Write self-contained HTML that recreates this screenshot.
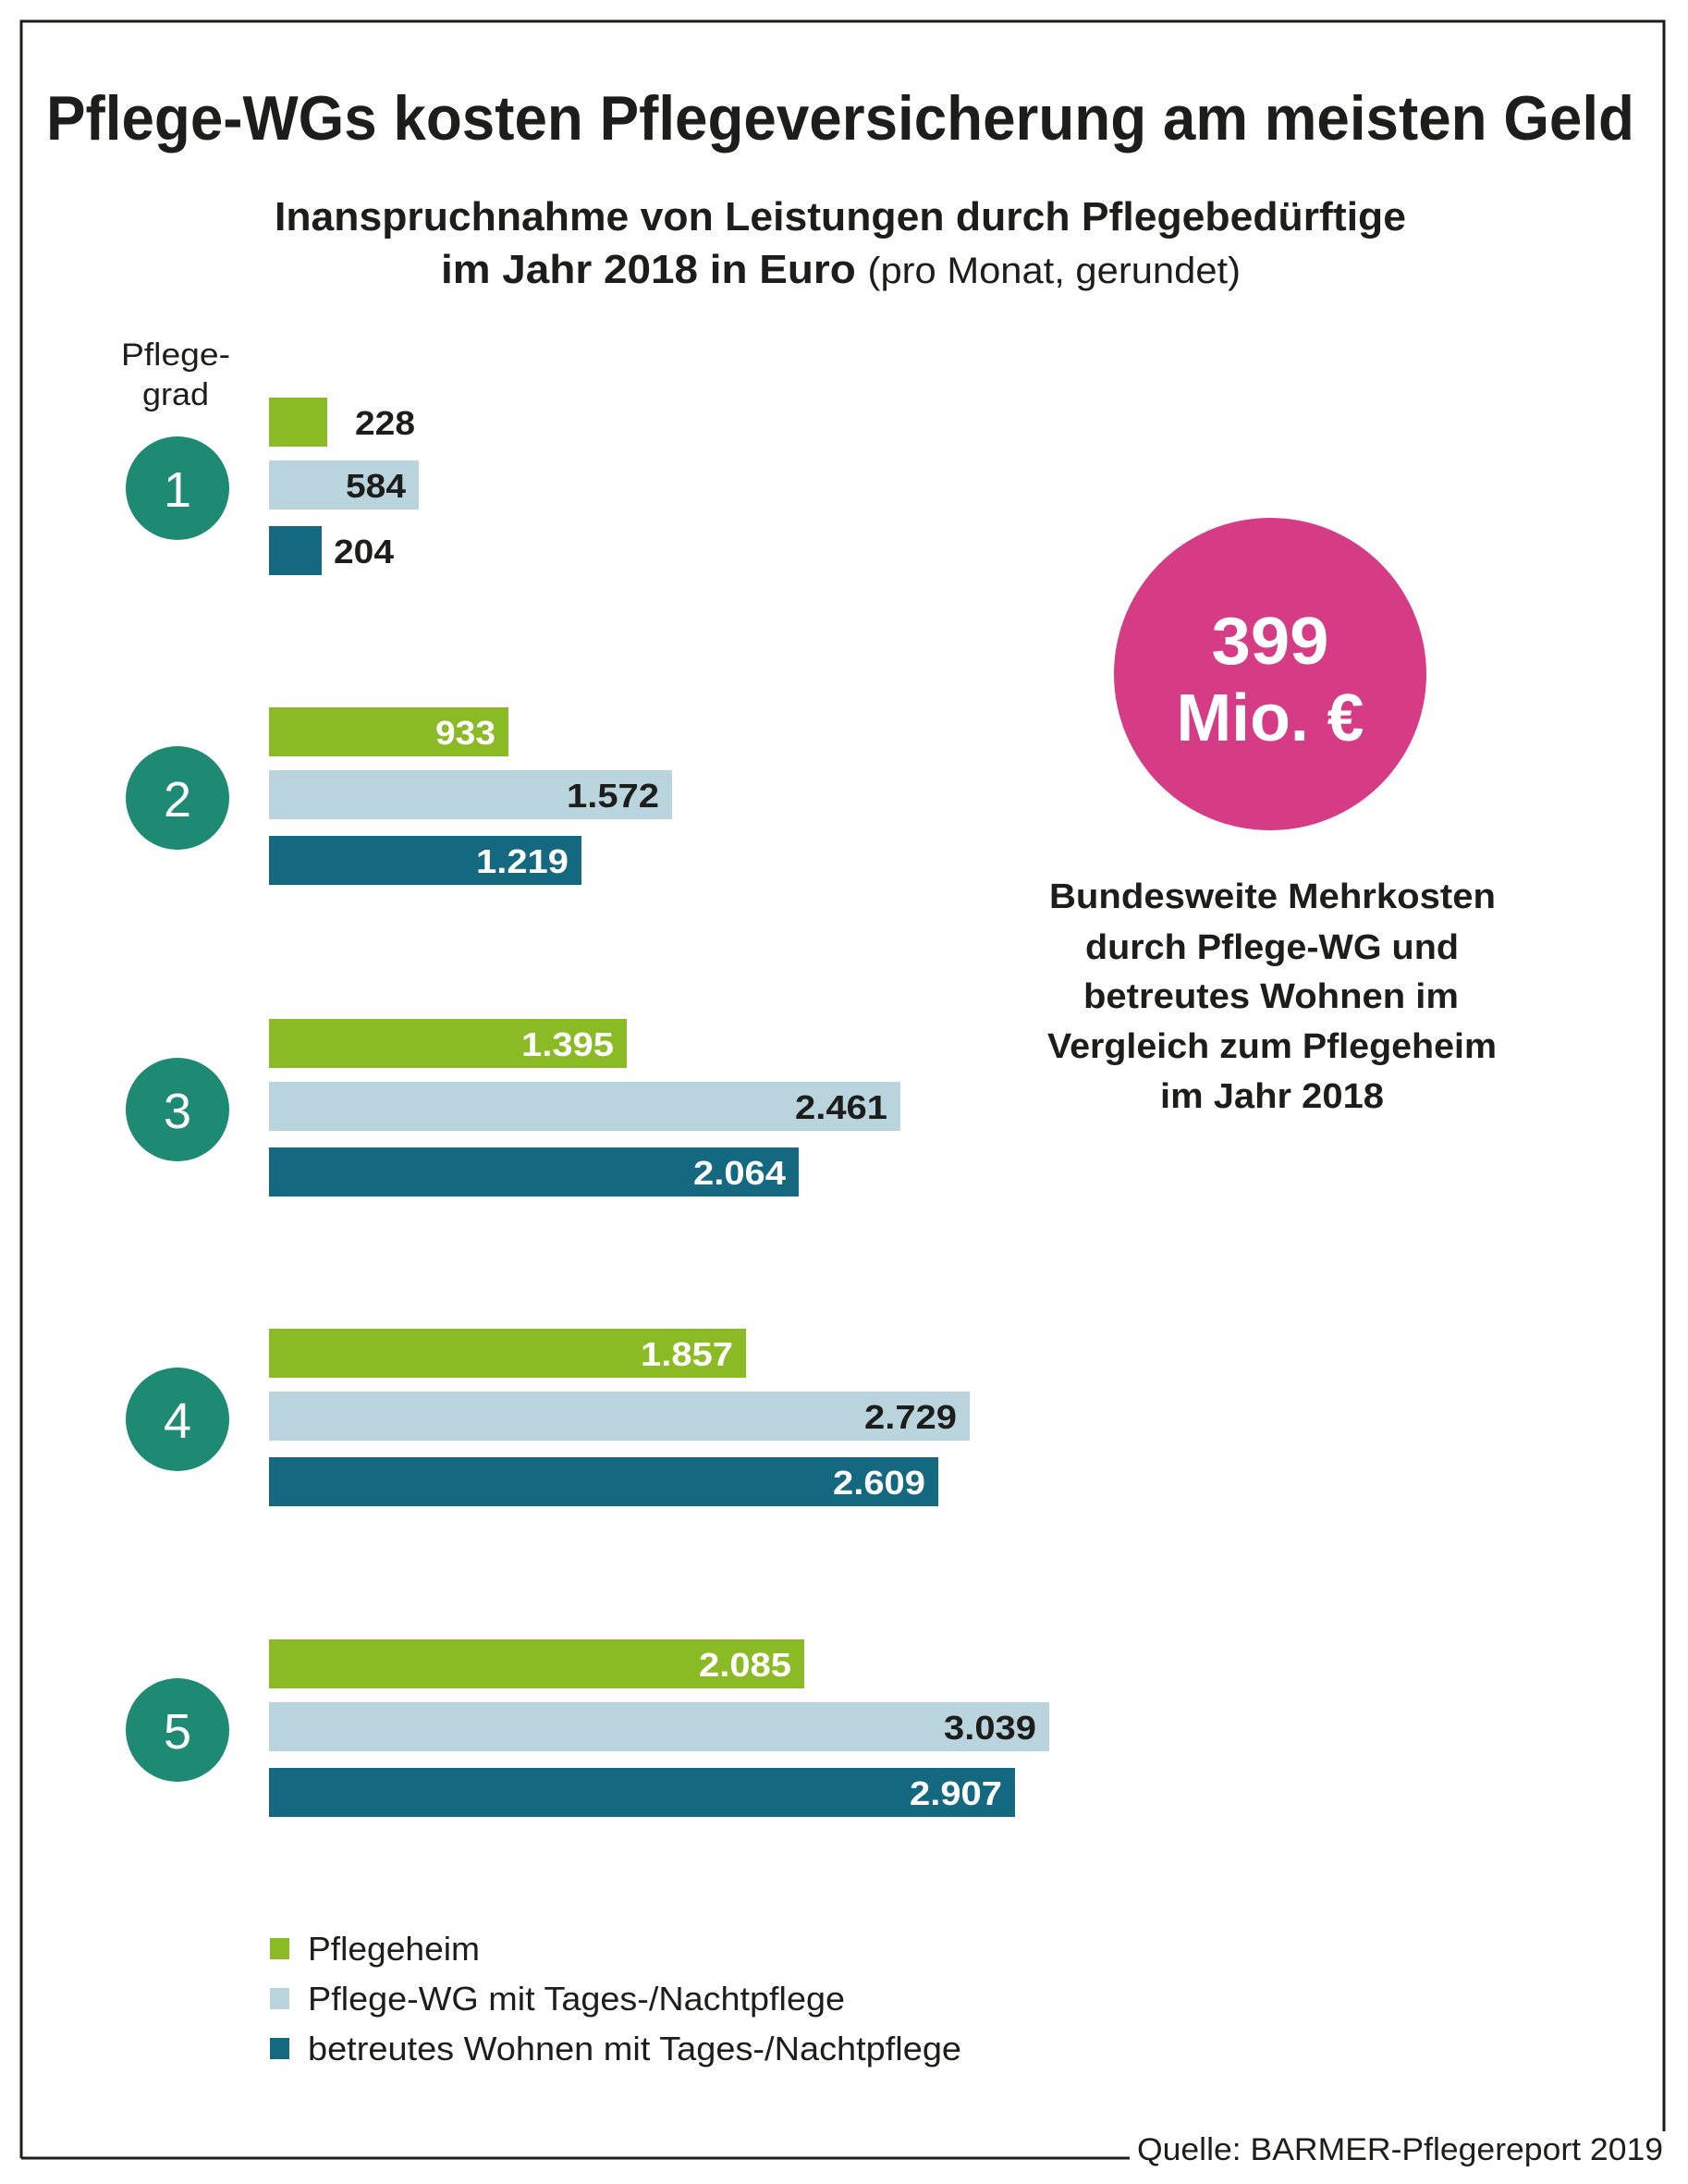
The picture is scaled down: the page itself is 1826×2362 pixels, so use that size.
<!DOCTYPE html>
<html><head><meta charset="utf-8"><style>
html,body{margin:0;padding:0;background:#fff;}
svg{display:block;}
text{font-family:"Liberation Sans",sans-serif;}
</style></head><body>
<svg width="1826" height="2362" viewBox="0 0 1826 2362" xmlns="http://www.w3.org/2000/svg">
<rect width="1826" height="2362" fill="#fff"/>
<g stroke="#1d1d1b" stroke-width="3" fill="none">
<path d="M23 2334 L23 23 L1800 23 L1800 2305"/>
<path d="M23 2334 L1222 2334"/>
</g>
<g fill="#1d1d1b">
<text x="50" y="151" font-size="68" font-weight="bold" textLength="1718" lengthAdjust="spacingAndGlyphs">Pflege-WGs kosten Pflegeversicherung am meisten Geld</text>
<text x="297" y="249" font-size="44" font-weight="bold" textLength="1224" lengthAdjust="spacingAndGlyphs">Inanspruchnahme von Leistungen durch Pflegebedürftige</text>
<text x="477" y="306" font-size="44" font-weight="bold" textLength="865" lengthAdjust="spacingAndGlyphs">im Jahr 2018 in Euro <tspan font-weight="normal" font-size="40">(pro Monat, gerundet)</tspan></text>
<text x="190" y="395" font-size="34" text-anchor="middle" textLength="118" lengthAdjust="spacingAndGlyphs">Pflege-</text>
<text x="190" y="438" font-size="34" text-anchor="middle" textLength="72" lengthAdjust="spacingAndGlyphs">grad</text>
</g>
<g id="bars">
<!-- group 1 cy=528 -->
<circle cx="192" cy="528" r="56" fill="#1e8a74"/>
<text x="192" y="548" font-size="54" fill="#fff" text-anchor="middle">1</text>
<rect x="291" y="430" width="63" height="53" fill="#8bbb24"/>
<rect x="291" y="498" width="162" height="53" fill="#b9d4dc"/>
<rect x="291" y="569" width="57" height="53" fill="#14687f"/>
<text x="384" y="470" font-size="36" font-weight="bold" fill="#1d1d1b" textLength="65" lengthAdjust="spacingAndGlyphs">228</text>
<text x="439" y="538" font-size="36" font-weight="bold" fill="#1d1d1b" text-anchor="end" textLength="65" lengthAdjust="spacingAndGlyphs">584</text>
<text x="361" y="609" font-size="36" font-weight="bold" fill="#1d1d1b" textLength="65" lengthAdjust="spacingAndGlyphs">204</text>

<!-- group 2 cy=863 -->
<circle cx="192" cy="863" r="56" fill="#1e8a74"/>
<text x="192" y="883" font-size="54" fill="#fff" text-anchor="middle">2</text>
<rect x="291" y="765" width="259" height="53" fill="#8bbb24"/>
<rect x="291" y="833" width="436" height="53" fill="#b9d4dc"/>
<rect x="291" y="904" width="338" height="53" fill="#14687f"/>
<text x="536" y="805" font-size="36" font-weight="bold" fill="#fff" text-anchor="end" textLength="65" lengthAdjust="spacingAndGlyphs">933</text>
<text x="713" y="873" font-size="36" font-weight="bold" fill="#1d1d1b" text-anchor="end" textLength="100" lengthAdjust="spacingAndGlyphs">1.572</text>
<text x="615" y="944" font-size="36" font-weight="bold" fill="#fff" text-anchor="end" textLength="100" lengthAdjust="spacingAndGlyphs">1.219</text>

<!-- group 3 cy=1200 -->
<circle cx="192" cy="1200" r="56" fill="#1e8a74"/>
<text x="192" y="1220" font-size="54" fill="#fff" text-anchor="middle">3</text>
<rect x="291" y="1102" width="387" height="53" fill="#8bbb24"/>
<rect x="291" y="1170" width="683" height="53" fill="#b9d4dc"/>
<rect x="291" y="1241" width="573" height="53" fill="#14687f"/>
<text x="664" y="1142" font-size="36" font-weight="bold" fill="#fff" text-anchor="end" textLength="100" lengthAdjust="spacingAndGlyphs">1.395</text>
<text x="960" y="1210" font-size="36" font-weight="bold" fill="#1d1d1b" text-anchor="end" textLength="100" lengthAdjust="spacingAndGlyphs">2.461</text>
<text x="850" y="1281" font-size="36" font-weight="bold" fill="#fff" text-anchor="end" textLength="100" lengthAdjust="spacingAndGlyphs">2.064</text>

<!-- group 4 cy=1535 -->
<circle cx="192" cy="1535" r="56" fill="#1e8a74"/>
<text x="192" y="1555" font-size="54" fill="#fff" text-anchor="middle">4</text>
<rect x="291" y="1437" width="516" height="53" fill="#8bbb24"/>
<rect x="291" y="1505" width="758" height="53" fill="#b9d4dc"/>
<rect x="291" y="1576" width="724" height="53" fill="#14687f"/>
<text x="793" y="1477" font-size="36" font-weight="bold" fill="#fff" text-anchor="end" textLength="100" lengthAdjust="spacingAndGlyphs">1.857</text>
<text x="1035" y="1545" font-size="36" font-weight="bold" fill="#1d1d1b" text-anchor="end" textLength="100" lengthAdjust="spacingAndGlyphs">2.729</text>
<text x="1001" y="1616" font-size="36" font-weight="bold" fill="#fff" text-anchor="end" textLength="100" lengthAdjust="spacingAndGlyphs">2.609</text>

<!-- group 5 cy=1871 -->
<circle cx="192" cy="1871" r="56" fill="#1e8a74"/>
<text x="192" y="1891" font-size="54" fill="#fff" text-anchor="middle">5</text>
<rect x="291" y="1773" width="579" height="53" fill="#8bbb24"/>
<rect x="291" y="1841" width="844" height="53" fill="#b9d4dc"/>
<rect x="291" y="1912" width="807" height="53" fill="#14687f"/>
<text x="856" y="1813" font-size="36" font-weight="bold" fill="#fff" text-anchor="end" textLength="100" lengthAdjust="spacingAndGlyphs">2.085</text>
<text x="1121" y="1881" font-size="36" font-weight="bold" fill="#1d1d1b" text-anchor="end" textLength="100" lengthAdjust="spacingAndGlyphs">3.039</text>
<text x="1084" y="1952" font-size="36" font-weight="bold" fill="#fff" text-anchor="end" textLength="100" lengthAdjust="spacingAndGlyphs">2.907</text>
</g>

<circle cx="1374" cy="729" r="169" fill="#d63c86"/>
<text x="1374" y="718" font-size="72" font-weight="bold" fill="#fff" text-anchor="middle" textLength="127" lengthAdjust="spacingAndGlyphs">399</text>
<text x="1374" y="801" font-size="72" font-weight="bold" fill="#fff" text-anchor="middle" textLength="203" lengthAdjust="spacingAndGlyphs">Mio. €</text>

<g fill="#1d1d1b" font-size="38" font-weight="bold">
<text x="1135" y="982" textLength="483" lengthAdjust="spacingAndGlyphs">Bundesweite Mehrkosten</text>
<text x="1174" y="1037" textLength="404" lengthAdjust="spacingAndGlyphs">durch Pflege-WG und</text>
<text x="1172" y="1090" textLength="406" lengthAdjust="spacingAndGlyphs">betreutes Wohnen im</text>
<text x="1133" y="1144" textLength="486" lengthAdjust="spacingAndGlyphs">Vergleich zum Pflegeheim</text>
<text x="1255" y="1198" textLength="242" lengthAdjust="spacingAndGlyphs">im Jahr 2018</text>
</g>

<rect x="292" y="2096" width="21" height="23" fill="#8bbb24"/>
<rect x="292" y="2150" width="21" height="23" fill="#b9d4dc"/>
<rect x="292" y="2204" width="21" height="23" fill="#14687f"/>
<g fill="#1d1d1b" font-size="36">
<text x="333" y="2120" textLength="186" lengthAdjust="spacingAndGlyphs">Pflegeheim</text>
<text x="333" y="2174" textLength="581" lengthAdjust="spacingAndGlyphs">Pflege-WG mit Tages-/Nachtpflege</text>
<text x="333" y="2228" textLength="707" lengthAdjust="spacingAndGlyphs">betreutes Wohnen mit Tages-/Nachtpflege</text>
<text x="1230" y="2336" font-size="34" textLength="569" lengthAdjust="spacingAndGlyphs">Quelle: BARMER-Pflegereport 2019</text>
</g>
</svg>
</body></html>
